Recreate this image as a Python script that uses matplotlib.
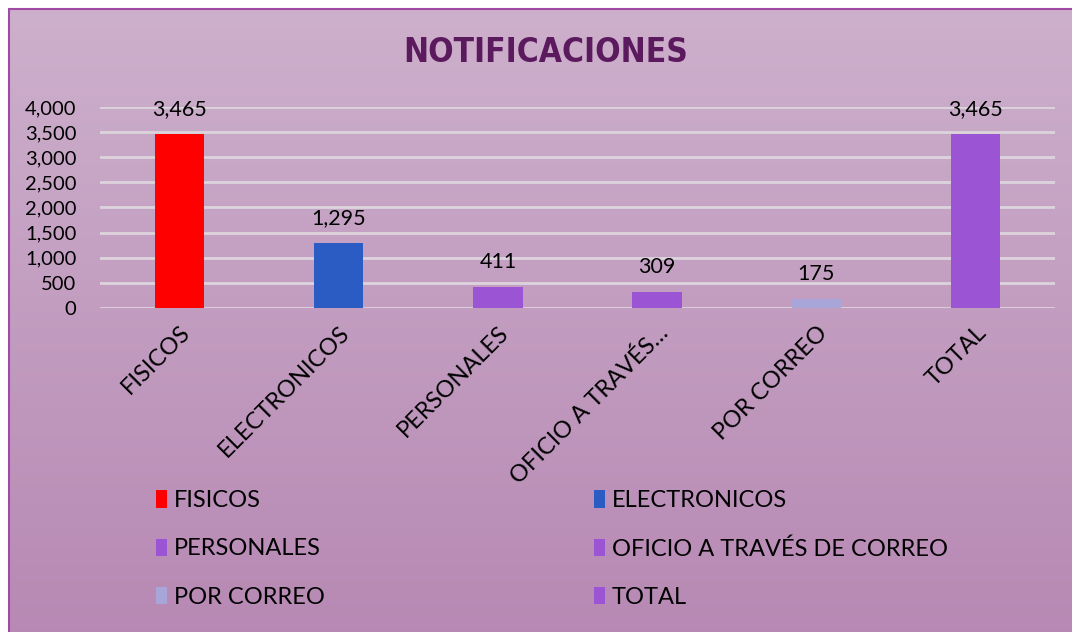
import numpy as np
import matplotlib
matplotlib.use("Agg")
import matplotlib.pyplot as plt
from matplotlib.patches import Rectangle, Patch

# data
categories = ["FISICOS", "ELECTRONICOS", "PERSONALES", "OFICIO A TRAVÉS DE CORREO", "POR CORREO", "TOTAL"]
tick_labels = ["FISICOS", "ELECTRONICOS", "PERSONALES", "OFICIO A TRAVÉS…", "POR CORREO", "TOTAL"]
values = [3465, 1295, 411, 309, 175, 3465]
colors = ["#ff0000", "#2a5cc4", "#9b55d4", "#9b55d4", "#a8a6d8", "#9b55d4"]
yticks = [0, 500, 1000, 1500, 2000, 2500, 3000, 3500, 4000]

plt.rcParams['font.family'] = ['Lato', 'DejaVu Sans']

fig = plt.figure(figsize=(10.72, 6.32), dpi=100)
fig.patch.set_facecolor("white")

# gradient background inside the frame
bg = fig.add_axes([9 / 1072, 0, 1 - 9 / 1072, 1 - 9 / 632])
grad = np.linspace(0, 1, 256).reshape(-1, 1)
top = np.array([0.804, 0.690, 0.800])
bot = np.array([0.718, 0.537, 0.706])
img = top + (bot - top) * grad[..., None]
bg.imshow(img, aspect="auto", extent=[0, 1, 0, 1], origin="upper")
bg.set_xlim(0, 1)
bg.set_ylim(0, 1)
bg.axis("off")
fig.add_artist(Rectangle((9 / 1072, -0.01), 1.0, 1 - 9 / 632 + 0.01, transform=fig.transFigure,
                         fill=False, edgecolor="#a04aa6", linewidth=1.5))

ax = fig.add_axes([100 / 1072, 1 - 308 / 632, 955 / 1072, 201 / 632])
ax.set_facecolor("none")
x = np.arange(len(categories))
bars = ax.bar(x, values, width=0.31, color=colors, zorder=3)
ax.set_ylim(0, 4000)
ax.set_xlim(-0.5, len(categories) - 0.5)
ax.set_yticks(yticks)
ax.set_yticklabels([f"{v:,}" for v in yticks], fontsize=14.5)
ax.yaxis.grid(True, color="#dcd4dc", linewidth=2, zorder=1)
ax.set_axisbelow(True)
ax.tick_params(axis="y", length=0, pad=17)
ax.tick_params(axis="x", length=0, pad=10)
ax.set_xticks(x)
ax.set_xticklabels(tick_labels, rotation=45, ha="right", va="top",
                   rotation_mode="anchor", fontsize=17)
for s in ax.spines.values():
    s.set_visible(False)

for b, v in zip(bars, values):
    ax.annotate(f"{v:,}", (b.get_x() + b.get_width() / 2, v), xytext=(0, 11),
                textcoords="offset points", ha="center", va="bottom", fontsize=15.5)

fig.text(546 / 1072, 1 - 52 / 632, "NOTIFICACIONES", ha="center", va="center",
         fontsize=24, fontweight="bold", fontstretch="condensed", color="#5c1a5e",
         family=["DejaVu Sans"])

# legend fills column-wise, so reorder to read row-wise like the reference
order = [0, 2, 4, 1, 3, 5]
handles = [Patch(facecolor=colors[i], edgecolor="none") for i in order]
labels = [categories[i] for i in order]
fig.legend(handles, labels, loc="upper left", bbox_to_anchor=(135 / 1072, 1 - 469 / 632),
           ncol=2, frameon=False, fontsize=17, handlelength=0.45, handleheight=0.75,
           handletextpad=0.3, columnspacing=11.4, labelspacing=1.15)

fig.savefig("out.png", dpi=100)
